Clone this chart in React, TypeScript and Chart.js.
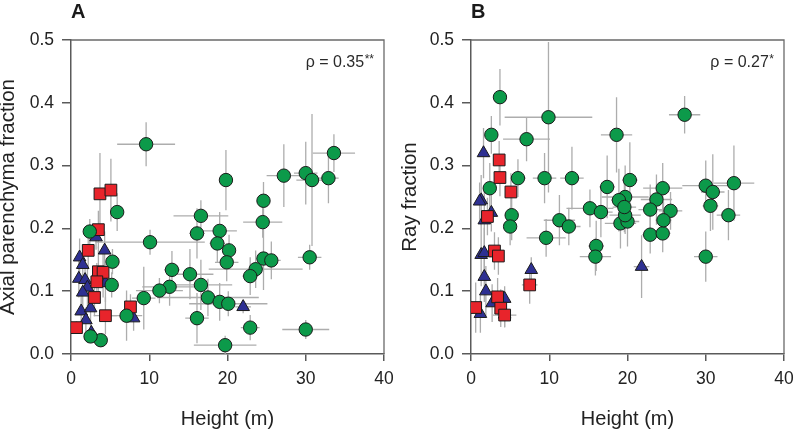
import React, { useEffect, useRef } from "react";
import { Chart, registerables } from "chart.js";

Chart.register(...registerables);

// Each row: [height (m), fraction, height error, fraction error]
const axialTrees: number[][] = [
  [9.6, 0.334, 3.7, 0.035], [19.8, 0.277, 0.6, 0.048], [24.6, 0.244, 0.5, 0.03],
  [27.2, 0.284, 2.2, 0.05], [30.0, 0.288, 1.5, 0.05], [30.8, 0.277, 2.0, 0.105],
  [32.9, 0.28, 1.3, 0.04], [33.6, 0.32, 2.7, 0.03], [5.9, 0.226, 0.6, 0.03],
  [16.6, 0.22, 3.5, 0.025], [2.4, 0.195, 0.5, 0.02], [10.1, 0.178, 7.0, 0.02],
  [5.3, 0.147, 0.5, 0.02], [5.2, 0.11, 0.7, 0.02], [16.1, 0.192, 1.0, 0.04],
  [19.0, 0.196, 2.2, 0.03], [18.7, 0.176, 1.0, 0.03], [20.2, 0.165, 0.8, 0.025],
  [19.9, 0.146, 1.5, 0.03], [24.5, 0.21, 2.5, 0.025], [24.6, 0.152, 1.0, 0.05],
  [25.6, 0.149, 1.2, 0.03], [23.6, 0.135, 6.0, 0.03], [22.9, 0.124, 1.0, 0.03],
  [30.5, 0.154, 1.5, 0.02], [12.9, 0.134, 1.0, 0.03], [15.2, 0.127, 3.0, 0.04],
  [12.6, 0.107, 3.5, 0.03], [11.3, 0.101, 3.0, 0.02], [9.3, 0.089, 1.5, 0.05],
  [16.6, 0.11, 4.0, 0.04], [17.5, 0.09, 6.5, 0.03], [19.0, 0.083, 2.0, 0.03],
  [20.1, 0.08, 5.0, 0.02], [16.1, 0.057, 1.5, 0.04], [22.9, 0.042, 1.2, 0.02],
  [30.0, 0.039, 3.0, 0.015], [19.7, 0.014, 4.0, 0.015], [7.1, 0.061, 2.0, 0.04],
  [3.8, 0.022, 0.5, 0.01], [2.5, 0.028, 0.5, 0.01],
];
const axialShrubs: number[][] = [
  [3.7, 0.255, 0.3, 0.065], [5.1, 0.261, 0.3, 0.05], [3.5, 0.198, 0.3, 0.03],
  [2.2, 0.165, 0.3, 0.03], [3.5, 0.131, 0.3, 0.04], [4.1, 0.13, 0.4, 0.04],
  [3.3, 0.115, 0.3, 0.03], [3.0, 0.09, 0.3, 0.03], [4.4, 0.061, 1.5, 0.03],
  [0.7, 0.042, 0.2, 0.01], [7.6, 0.075, 0.5, 0.02],
];
const axialHerbs: number[][] = [
  [1.1, 0.154, 0.2, 0.03], [1.5, 0.142, 0.2, 0.03], [4.3, 0.165, 0.3, 0.03],
  [3.2, 0.186, 0.3, 0.02], [1.0, 0.12, 0.2, 0.03], [1.8, 0.118, 0.2, 0.02],
  [2.1, 0.106, 0.2, 0.03], [1.5, 0.098, 0.2, 0.03], [4.4, 0.113, 0.3, 0.03],
  [1.3, 0.068, 0.2, 0.03], [2.5, 0.073, 0.3, 0.03], [1.9, 0.054, 0.2, 0.02],
  [2.6, 0.034, 0.3, 0.01], [22.0, 0.075, 1.0, 0.01], [8.0, 0.057, 0.5, 0.02],
];

const rayTrees: number[][] = [
  [3.7, 0.409, 0.5, 0.045], [9.9, 0.377, 5.6, 0.12], [2.6, 0.349, 0.3, 0.03],
  [7.1, 0.342, 3.0, 0.035], [18.6, 0.349, 2.0, 0.06], [27.3, 0.381, 2.0, 0.03],
  [2.4, 0.264, 0.3, 0.04], [6.0, 0.28, 1.0, 0.03], [9.4, 0.28, 1.5, 0.04],
  [12.9, 0.28, 1.5, 0.05], [17.4, 0.266, 1.0, 0.05], [20.3, 0.277, 1.0, 0.06],
  [19.7, 0.25, 3.0, 0.05], [18.9, 0.245, 1.0, 0.05], [24.5, 0.264, 2.5, 0.04],
  [23.7, 0.246, 2.0, 0.04], [30.0, 0.268, 3.0, 0.04], [30.9, 0.258, 1.5, 0.06],
  [33.6, 0.272, 2.6, 0.06], [15.2, 0.232, 3.0, 0.03], [16.6, 0.226, 1.5, 0.04],
  [22.9, 0.23, 1.5, 0.04], [25.5, 0.228, 1.5, 0.03], [30.6, 0.236, 1.0, 0.04],
  [32.9, 0.221, 1.5, 0.04], [5.2, 0.221, 0.5, 0.04], [5.0, 0.203, 0.5, 0.03],
  [9.6, 0.185, 2.5, 0.03], [11.3, 0.213, 2.0, 0.04], [12.5, 0.203, 1.5, 0.03],
  [16.0, 0.172, 1.0, 0.04], [15.9, 0.155, 2.0, 0.03], [19.1, 0.208, 2.0, 0.04],
  [20.0, 0.211, 1.5, 0.04], [19.7, 0.221, 2.0, 0.03], [19.6, 0.234, 1.5, 0.04],
  [22.9, 0.19, 1.0, 0.03], [24.5, 0.192, 1.0, 0.03], [24.6, 0.213, 1.0, 0.03],
  [30.0, 0.155, 1.5, 0.04],
];
const rayShrubs: number[][] = [
  [3.6, 0.309, 0.2, 0.03], [3.7, 0.281, 0.3, 0.03], [5.1, 0.258, 0.3, 0.03],
  [2.1, 0.219, 0.3, 0.03], [3.0, 0.164, 0.3, 0.03], [3.5, 0.156, 0.3, 0.03],
  [0.6, 0.074, 0.2, 0.04], [3.4, 0.091, 0.3, 0.03], [3.8, 0.073, 0.3, 0.03],
  [4.3, 0.062, 1.5, 0.02], [7.5, 0.11, 1.0, 0.03],
];
const rayHerbs: number[][] = [
  [1.6, 0.32, 0.3, 0.04], [1.3, 0.245, 0.2, 0.04], [1.1, 0.243, 0.2, 0.03],
  [2.6, 0.225, 0.3, 0.03], [1.7, 0.213, 0.3, 0.05], [1.3, 0.158, 0.2, 0.05],
  [1.7, 0.161, 0.2, 0.04], [1.7, 0.123, 0.2, 0.04], [1.9, 0.1, 0.2, 0.04],
  [1.2, 0.064, 0.2, 0.03], [2.7, 0.081, 0.3, 0.03], [4.3, 0.088, 0.3, 0.02],
  [4.3, 0.063, 0.3, 0.02], [7.7, 0.134, 0.5, 0.02], [21.8, 0.139, 1.0, 0.05],
];

const xTicks = [0, 10, 20, 30, 40];
const yTicks = [0, 0.1, 0.2, 0.3, 0.4, 0.5];
const panelLetters = ["A", "B"];
const yTitles = ["Axial parenchyma fraction", "Ray fraction"];
const xTitle = "Height (m)";
const rhoValues = ["ρ = 0.35", "ρ = 0.27"];
const rhoStars = ["**", "*"];

const FONT = "'Liberation Sans', Arial, Helvetica, sans-serif";
const GREEN = "#0c9a4a";
const RED = "#e8242b";
const BLUE = "#2e3092";

const errorBarPlugin = {
  id: "errorBars",
  beforeDatasetsDraw(chart: any) {
    const { ctx, chartArea, scales } = chart;
    ctx.save();
    ctx.beginPath();
    ctx.rect(chartArea.left, chartArea.top, chartArea.right - chartArea.left, chartArea.bottom - chartArea.top);
    ctx.clip();
    ctx.strokeStyle = "#adadad";
    ctx.lineWidth = 1.3;
    chart.data.datasets.forEach((ds: any) => {
      (ds.errors as number[][]).forEach((r) => {
        const [x, y, ex, ey] = r;
        const px = scales.x.getPixelForValue(x);
        const py = scales.y.getPixelForValue(y);
        ctx.beginPath();
        ctx.moveTo(scales.x.getPixelForValue(x - ex), py);
        ctx.lineTo(scales.x.getPixelForValue(x + ex), py);
        ctx.moveTo(px, scales.y.getPixelForValue(y - ey));
        ctx.lineTo(px, scales.y.getPixelForValue(y + ey));
        ctx.stroke();
      });
    });
    ctx.restore();
    // frame (top and right)
    ctx.save();
    ctx.strokeStyle = "#6a6a6a";
    ctx.lineWidth = 1.3;
    ctx.beginPath();
    ctx.moveTo(chartArea.left, chartArea.top);
    ctx.lineTo(chartArea.right, chartArea.top);
    ctx.lineTo(chartArea.right, chartArea.bottom);
    ctx.stroke();
    ctx.restore();
  },
};

const annotationPlugin = {
  id: "annotations",
  afterDraw(chart: any) {
    const { ctx, chartArea } = chart;
    const idx = chart.options.plugins.annotations.idx as number;
    ctx.save();
    ctx.fillStyle = "#1a1a1a";
    ctx.textBaseline = "alphabetic";
    ctx.textAlign = "left";
    ctx.font = `bold 20px ${FONT}`;
    ctx.fillText(panelLetters[idx], chartArea.left, 18);
    // rho
    ctx.font = `12px ${FONT}`;
    const starW = ctx.measureText(rhoStars[idx]).width;
    const right = chartArea.right - 10;
    ctx.fillStyle = "#2a2a2a";
    ctx.fillText(rhoStars[idx], right - starW, chartArea.top + 23);
    ctx.font = `16px ${FONT}`;
    ctx.textAlign = "right";
    ctx.fillText(rhoValues[idx], right - starW - 0.5, chartArea.top + 27);
    ctx.restore();
  },
};

function mkSet(rows: number[][], style: string, color: string, radius: number, order: number) {
  return {
    data: rows.map((r) => ({ x: r[0], y: r[1] })),
    errors: rows,
    pointStyle: style,
    pointRadius: radius,
    pointHoverRadius: radius,
    pointBackgroundColor: color,
    pointBorderColor: "#1b1b1b",
    pointBorderWidth: 1,
    showLine: false,
    order,
  } as any;
}

type PanelProps = {
  idx: number;
  left: number;
  width: number;
  axisWidth: number;
  titlePad: number;
  trees: number[][];
  shrubs: number[][];
  herbs: number[][];
};

function Panel({ idx, left, width, axisWidth, titlePad, trees, shrubs, herbs }: PanelProps) {
  const ref = useRef<HTMLCanvasElement>(null);
  useEffect(() => {
    const chart = new Chart(ref.current as HTMLCanvasElement, {
      type: "scatter",
      data: {
        datasets: [
          mkSet(herbs, "triangle", BLUE, 7.3, 3),
          mkSet(shrubs, "rect", RED, 8.3, 2),
          mkSet(trees, "circle", GREEN, 6.7, 1),
        ],
      },
      options: {
        animation: false,
        responsive: true,
        maintainAspectRatio: false,
        events: [],
        layout: { padding: { top: 40, right: width - axisWidth - 313, left: 0, bottom: 0 } },
        plugins: {
          legend: { display: false },
          tooltip: { enabled: false },
          annotations: { idx },
        } as any,
        scales: {
          x: {
            type: "linear",
            min: 0,
            max: 40,
            afterBuildTicks: (s: any) => {
              s.ticks = xTicks.map((v) => ({ value: v }));
            },
            afterFit: (s: any) => {
              s.height = 78;
              s.paddingLeft = 0;
              s.paddingRight = 0;
            },
            grid: { display: true, drawOnChartArea: false, drawTicks: true, tickLength: 7, color: "#5a5a5a", lineWidth: 1.5 },
            border: { display: true, color: "#5a5a5a", width: 1.5 },
            ticks: {
              font: { family: FONT, size: 17.5 },
              color: "#222",
              padding: 8,
              maxRotation: 0,
              callback: (v: any) => String(v),
            },
            title: {
              display: true,
              text: xTitle,
              font: { family: FONT, size: 20, lineHeight: 1.2 },
              color: "#222",
              padding: { top: 0, bottom: 1 },
            },
          },
          y: {
            type: "linear",
            min: 0,
            max: 0.5,
            afterBuildTicks: (s: any) => {
              s.ticks = yTicks.map((v) => ({ value: v }));
            },
            afterFit: (s: any) => {
              s.width = axisWidth;
            },
            grid: { display: true, drawOnChartArea: false, drawTicks: true, tickLength: 9, color: "#5a5a5a", lineWidth: 1.5 },
            border: { display: true, color: "#5a5a5a", width: 1.5 },
            ticks: {
              font: { family: FONT, size: 17.5 },
              color: "#222",
              padding: 8,
              callback: (v: any) => Number(v).toFixed(1),
            },
            title: {
              display: true,
              text: yTitles[idx],
              font: { family: FONT, size: 20.5, lineHeight: 1 },
              color: "#222",
              padding: { top: titlePad, bottom: 0 },
            },
          },
        },
      },
      plugins: [errorBarPlugin, annotationPlugin],
    } as any);
    return () => chart.destroy();
  }, []);
  return (
    <div style={{ position: "absolute", left, top: 0, width, height: 432 }}>
      <canvas ref={ref} />
    </div>
  );
}

export default function App() {
  return (
    <div style={{ position: "fixed", left: 0, top: 0, width: 795, height: 432, background: "#fff" }}>
      <Panel idx={0} left={0} width={395} axisWidth={71} titlePad={-2} trees={axialTrees} shrubs={axialShrubs} herbs={axialHerbs} />
      <Panel idx={1} left={395} width={400} axisWidth={76} titlePad={5} trees={rayTrees} shrubs={rayShrubs} herbs={rayHerbs} />
    </div>
  );
}
